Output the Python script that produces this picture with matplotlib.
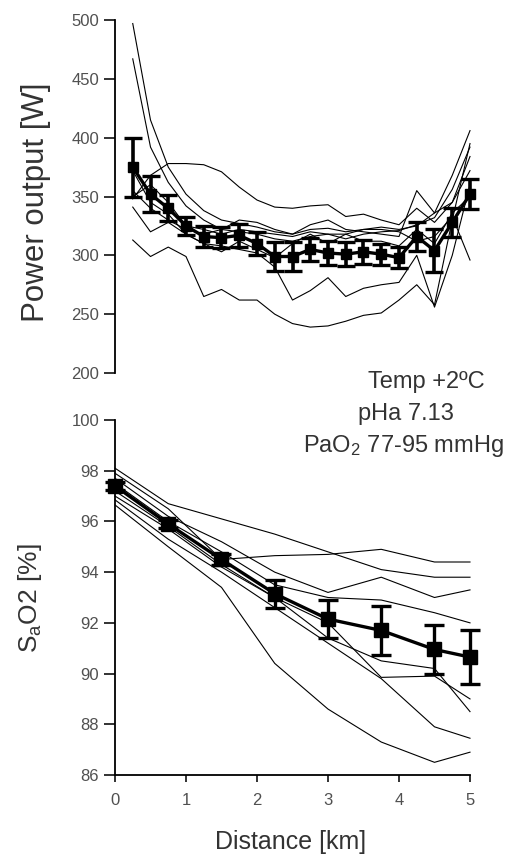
import numpy as np
import matplotlib
matplotlib.use('Agg')
import matplotlib.pyplot as plt

plt.rcParams['font.family'] = ['Liberation Sans', 'DejaVu Sans']
plt.rcParams['mathtext.default'] = 'regular'

# power output, every 0.25 km
dist_pow = [0.25, 0.5, 0.75, 1.0, 1.25, 1.5, 1.75, 2.0, 2.25, 2.5,
            2.75, 3.0, 3.25, 3.5, 3.75, 4.0, 4.25, 4.5, 4.75, 5.0]
pow_mean = [375, 352, 340, 325, 316, 315, 317, 310, 299, 299,
            305, 302, 301, 303, 301, 298, 316, 304, 328, 352]
pow_sd = [25, 15, 11, 8, 9, 9, 10, 10, 12, 12,
          10, 10, 10, 10, 9, 9, 12, 18, 12, 13]

pow_subj1 = [497, 415, 375, 352, 338, 330, 327, 324, 320, 318, 322, 323, 320, 322, 324, 322, 325, 336, 368, 406]
pow_subj2 = [467, 392, 362, 342, 330, 322, 320, 318, 314, 312, 316, 318, 314, 318, 320, 321, 326, 332, 356, 392]
pow_subj3 = [348, 368, 378, 378, 377, 371, 358, 347, 341, 340, 342, 343, 333, 335, 330, 326, 340, 328, 345, 384]
pow_subj4 = [355, 340, 330, 322, 318, 322, 330, 328, 322, 318, 326, 330, 322, 320, 318, 316, 355, 336, 345, 372]
pow_subj5 = [350, 360, 345, 325, 322, 318, 322, 320, 318, 316, 320, 318, 318, 322, 322, 320, 312, 316, 333, 296]
pow_subj6 = [341, 320, 328, 318, 310, 308, 305, 302, 290, 262, 270, 281, 265, 272, 275, 277, 300, 256, 300, 360]
pow_subj7 = [313, 299, 307, 299, 265, 271, 262, 262, 250, 242, 239, 240, 244, 249, 251, 262, 275, 258, 330, 395]
pow_subj8 = [372, 345, 335, 318, 310, 303, 312, 305, 298, 310, 318, 310, 318, 312, 312, 308, 322, 310, 336, 350]
pow_subjects = [pow_subj1, pow_subj2, pow_subj3, pow_subj4,
                pow_subj5, pow_subj6, pow_subj7, pow_subj8]

# arterial O2 saturation, every 0.75 km
dist_sat = [0, 0.75, 1.5, 2.25, 3.0, 3.75, 4.5, 5.0]
sat_mean = [97.4, 95.9, 94.5, 93.15, 92.15, 91.7, 90.95, 90.65]
sat_sd = [0.15, 0.15, 0.2, 0.55, 0.75, 0.95, 0.95, 1.05]

sat_subj1 = [98.1, 96.7, 96.1, 95.5, 94.8, 94.1, 93.8, 93.8]
sat_subj2 = [97.9, 96.5, 94.5, 94.65, 94.7, 94.9, 94.4, 94.4]
sat_subj3 = [97.7, 96.2, 95.2, 94.0, 93.2, 93.8, 93.0, 93.3]
sat_subj4 = [97.5, 96.0, 94.8, 93.5, 93.0, 92.9, 92.4, 92.0]
sat_subj5 = [97.2, 95.8, 94.3, 93.0, 92.0, 89.85, 89.9, 89.0]
sat_subj6 = [97.0, 95.7, 94.2, 93.0, 91.4, 90.5, 90.2, 88.5]
sat_subj7 = [96.85, 95.3, 94.0, 92.6, 91.2, 89.8, 87.9, 87.45]
sat_subj8 = [96.65, 95.0, 93.4, 90.4, 88.6, 87.3, 86.5, 86.9]
sat_subjects = [sat_subj1, sat_subj2, sat_subj3, sat_subj4,
                sat_subj5, sat_subj6, sat_subj7, sat_subj8]

W, H = 522, 859
fig = plt.figure(figsize=(W / 100, H / 100), dpi=100)
ax1 = fig.add_axes([115 / W, 1 - 373 / H, 355 / W, 353 / H])
ax2 = fig.add_axes([115 / W, 1 - 775 / H, 355 / W, 355 / H])

tick_kw = dict(labelsize=12, labelcolor='#505050', width=1.3, color='#222222')

# --- top: power output
for s in pow_subjects:
    ax1.plot(dist_pow, s, color='black', linewidth=0.8, clip_on=False)
eb = ax1.errorbar(dist_pow, pow_mean, yerr=pow_sd, color='black', linewidth=2.4,
                  marker='s', markersize=7.5, elinewidth=2.6, capsize=6.5, capthick=2.4)
for a in [eb[0], *eb[1], *eb[2]]:
    a.set_clip_on(False)
ax1.set_xlim(0, 5)
ax1.set_ylim(200, 500)
ax1.set_yticks([200, 250, 300, 350, 400, 450, 500])
for sp in ['top', 'right', 'bottom']:
    ax1.spines[sp].set_visible(False)
ax1.spines['left'].set_linewidth(1.3)
ax1.set_xticks([])
ax1.tick_params(axis='y', length=8, **tick_kw)

# --- bottom: SaO2
for s in sat_subjects:
    ax2.plot(dist_sat, s, color='black', linewidth=0.8, clip_on=False)
eb = ax2.errorbar(dist_sat, sat_mean, yerr=sat_sd, color='black', linewidth=2.4,
                  marker='s', markersize=10.5, elinewidth=2.4, capsize=7.5, capthick=2.4)
for a in [eb[0], *eb[1], *eb[2]]:
    a.set_clip_on(False)
ax2.set_xlim(0, 5)
ax2.set_ylim(86, 100)
ax2.set_yticks(np.arange(86, 101, 2))
ax2.set_xticks([0, 1, 2, 3, 4, 5])
for sp in ['top', 'right']:
    ax2.spines[sp].set_visible(False)
ax2.spines['left'].set_linewidth(1.3)
ax2.spines['bottom'].set_linewidth(1.3)
ax2.tick_params(axis='y', length=8, **tick_kw)
ax2.tick_params(axis='x', length=5, pad=8, **tick_kw)

# labels
lab_kw = dict(color='#333333')
fig.text(36 / W, 1 - 202 / H, 'Power output [W]', rotation=90, fontsize=22.5,
         ha='center', va='center', **lab_kw)
fig.text(30 / W, 1 - 598 / H, 'S$_{a}$O2 [%]', rotation=90, fontsize=19,
         ha='center', va='center', **lab_kw)
fig.text(291 / W, 1 - 842 / H, 'Distance [km]', fontsize=18,
         ha='center', va='center', **lab_kw)

fig.text(426 / W, 1 - 382 / H, 'Temp +2ºC', fontsize=17, ha='center', va='center', **lab_kw)
fig.text(406 / W, 1 - 414 / H, 'pHa 7.13', fontsize=17, ha='center', va='center', **lab_kw)
fig.text(404 / W, 1 - 446 / H, 'PaO$_2$ 77-95 mmHg', fontsize=17, ha='center', va='center', **lab_kw)

fig.savefig('out.png', dpi=100, facecolor='white')
